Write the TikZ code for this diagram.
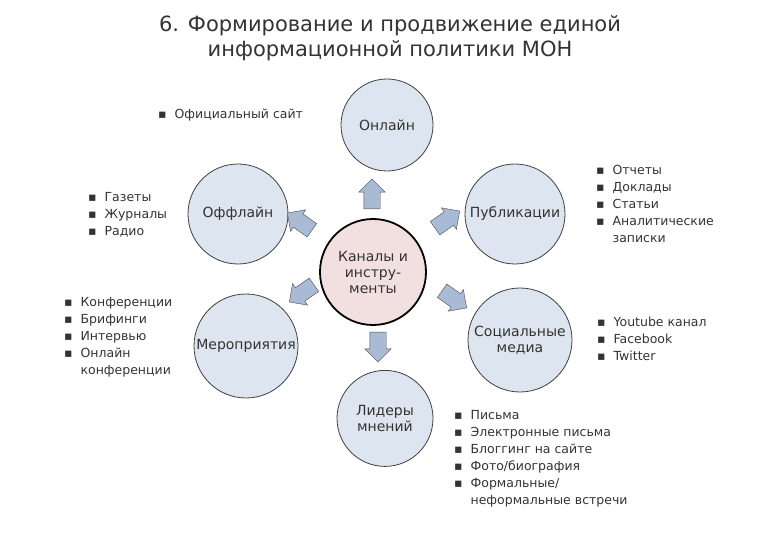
\documentclass[tikz,border=0pt]{standalone}
\usepackage{fontspec}
\setmainfont{DejaVu Sans}
\usetikzlibrary{shapes.arrows}
\definecolor{cfill}{HTML}{DDE5F0}
\definecolor{afill}{HTML}{A9BAD5}
\definecolor{mfill}{HTML}{F2E0E0}
\definecolor{tcol}{HTML}{333333}
\begin{document}
\begin{tikzpicture}[x=1pt,y=-1pt,
  outer/.style={circle,draw=black!75,line width=0.8pt,fill=cfill,minimum size=92pt,inner sep=0pt,align=center,font=\fontsize{14}{16}\selectfont,text=tcol},
  center/.style={circle,draw=black,line width=1.8pt,fill=mfill,minimum size=106pt,inner sep=0pt,align=center,font=\fontsize{14}{16}\selectfont,text=tcol},
  barrow/.style={single arrow,draw=black!70,fill=afill,minimum height=30pt,single arrow head extend=5pt,single arrow head indent=0pt,inner xsep=4pt,inner ysep=8pt},
  blist/.style={anchor=north west,inner sep=0pt,font=\fontsize{12.5}{17}\selectfont,align=left,text=tcol}]
\useasboundingbox (0,0) rectangle (780,540);
\node[font=\fontsize{21}{25}\selectfont,align=center,text=tcol] (title) at (390,38) {6. Формирование и продвижение единой\\информационной политики МОН};
\node[center] (c) at (373,272) {Каналы и\\инстру-\\менты};
\node[outer] (on) at (387,125) {Онлайн};
\node[outer,minimum size=100pt] (off) at (238,214) {Оффлайн};
\node[outer,minimum size=100pt] (pub) at (515,214) {Публикации};
\node[outer,minimum size=104pt] (mer) at (246,346) {Мероприятия};
\node[outer,minimum size=104pt] (soc) at (520,340) {Социальные\\медиа};
\node[outer,minimum size=96pt,anchor=north] (lid) at (385,370) {Лидеры\\мнений};
\node[barrow,rotate=90] (a1) at (372,198) {};
\node[barrow,rotate=145] (a2) at (303,224) {};
\node[barrow,rotate=35] (a3) at (444,222) {};
\node[barrow,rotate=215] (a4) at (305,291) {};
\node[barrow,rotate=-35] (a5) at (451,297) {};
\node[barrow,rotate=-90] (a6) at (378,343) {};
\node[blist] (l1) at (158,109) {▪\ \ Официальный сайт};
\node[blist] (l2) at (88,192) {▪\ \ Газеты\\▪\ \ Журналы\\▪\ \ Радио};
\node[blist] (l3) at (64,294) {\begin{tabular}{@{}l@{\ \ }l@{}}▪&Конференции\\▪&Брифинги\\▪&Интервью\\▪&Онлайн\\&конференции\end{tabular}};
\node[blist] (l4) at (596,162) {\begin{tabular}{@{}l@{\ \ }l@{}}▪&Отчеты\\▪&Доклады\\▪&Статьи\\▪&Аналитические\\&записки\end{tabular}};
\node[blist] (l5) at (597,314) {\begin{tabular}{@{}l@{\ \ }l@{}}▪&Youtube канал\\▪&Facebook\\▪&Twitter\end{tabular}};
\node[blist] (l6) at (454,407) {\begin{tabular}{@{}l@{\ \ }l@{}}▪&Письма\\▪&Электронные письма\\▪&Блоггинг на сайте\\▪&Фото/биография\\▪&Формальные/\\&неформальные встречи\end{tabular}};
\end{tikzpicture}
\end{document}
